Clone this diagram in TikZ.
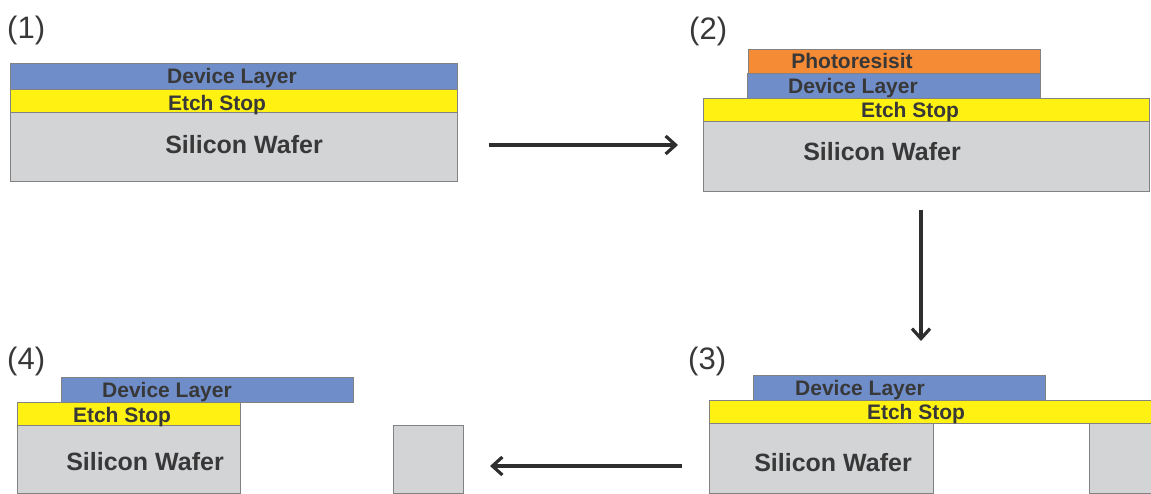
\documentclass[tikz,border=0pt]{standalone}
\usepackage{fontspec}
\setmainfont{Liberation Sans}
\usetikzlibrary{arrows.meta}
\definecolor{devblue}{HTML}{6F8DC9}
\definecolor{etchyellow}{HTML}{FFF212}
\definecolor{resistorange}{HTML}{F58B35}
\definecolor{wafergray}{HTML}{D3D4D6}
\definecolor{edgegray}{HTML}{828282}
\definecolor{inkgray}{HTML}{383838}
\definecolor{arrowgray}{HTML}{2E2E2E}
\begin{document}
\begin{tikzpicture}[x=1pt,y=-1pt,
  layer/.style={draw=edgegray,line width=0.9pt},
  device/.style={layer,fill=devblue},
  etch/.style={layer,fill=etchyellow},
  resist/.style={layer,fill=resistorange},
  wafer/.style={layer,fill=wafergray},
  lbl/.style={font=\bfseries\fontsize{21}{21}\selectfont,text=inkgray,inner sep=0pt,
    text height=15pt,text depth=0pt,anchor=center},
  biglbl/.style={lbl,font=\bfseries\fontsize{25}{25}\selectfont,text height=18pt},
  steplbl/.style={font=\fontsize{31}{31}\selectfont,text=inkgray,inner sep=0pt,anchor=north west},
  flow/.style={draw=arrowgray,line width=3.2pt,-{Straight Barb[length=10pt,width=18pt,line width=3.2pt]}}]
\useasboundingbox (0,0) rectangle (1151,494);

% ---- step (1): stacked wafer ----
\node[steplbl] (s1) at (7,16) {(1)};
\draw[wafer]  (10,112) rectangle (457,181);
\draw[etch]   (10,89)  rectangle (457,112);
\draw[device] (10,63)  rectangle (457,89);
\node[lbl]    (d1) at (232,76.5) {Device Layer};
\node[lbl]    (e1) at (217,103.5) {Etch Stop};
\node[biglbl] (w1) at (244,144.5) {Silicon Wafer};

% ---- step (2): patterned photoresist on device layer ----
\node[steplbl] (s2) at (689,17) {(2)};
\draw[wafer]  (703,121) rectangle (1149,191);
\draw[etch]   (703,98)  rectangle (1149,121);
\draw[device] (747,73)  rectangle (1040,98);
\draw[resist] (748,49)  rectangle (1040,73);
\node[lbl]    (p2) at (852,61.5) {Photoresisit};
\node[lbl]    (d2) at (853,86) {Device Layer};
\node[lbl]    (e2) at (910,110) {Etch Stop};
\node[biglbl] (w2) at (882,152) {Silicon Wafer};

% ---- step (3): backside etch of the wafer ----
\node[steplbl] (s3) at (688,347) {(3)};
\draw[wafer]  (709,423)  rectangle (933,493);
\draw[wafer]  (1089,423) rectangle (1160,493);
\draw[etch]   (709,400)  rectangle (1160,423);
\draw[device] (753,375)  rectangle (1045,400);
\node[lbl]    (d3) at (860,387.5) {Device Layer};
\node[lbl]    (e3) at (916,412) {Etch Stop};
\node[biglbl] (w3) at (833,462) {Silicon Wafer};

% ---- step (4): released device layer ----
\node[steplbl] (s4) at (7,347) {(4)};
\draw[wafer]  (17,425)  rectangle (240,493);
\draw[wafer]  (393,425) rectangle (463,493);
\draw[etch]   (17,402)  rectangle (240,425);
\draw[device] (61,377)  rectangle (353,402);
\node[lbl]    (d4) at (167,389.5) {Device Layer};
\node[lbl]    (e4) at (122,414.5) {Etch Stop};
\node[biglbl] (w4) at (145,461) {Silicon Wafer};

% ---- process flow arrows ----
\coordinate (a12s) at (489,145);
\coordinate (a12e) at (678,145);
\coordinate (a23s) at (921,210);
\coordinate (a23e) at (921,341);
\coordinate (a34s) at (682,466);
\coordinate (a34e) at (490,466);
\draw[flow] (a12s) -- (a12e);
\draw[flow] (a23s) -- (a23e);
\draw[flow] (a34s) -- (a34e);
\end{tikzpicture}
\end{document}
